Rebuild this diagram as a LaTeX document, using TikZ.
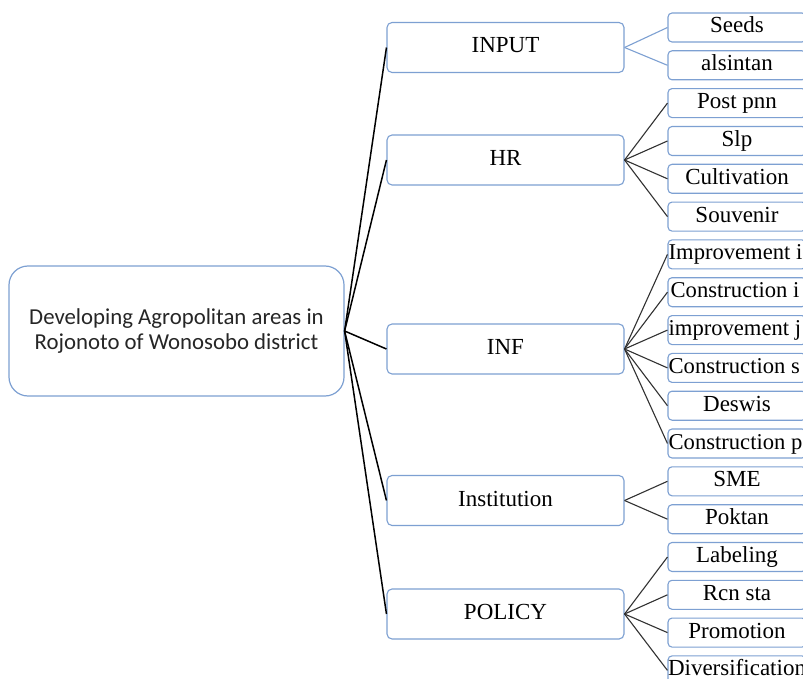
\documentclass[tikz,border=0pt]{standalone}
\usepackage{fontspec}
\setmainfont{Liberation Serif}
\newfontfamily\rootfont{Carlito}
\definecolor{boxblue}{RGB}{125,160,210}
\definecolor{linegray}{RGB}{50,50,50}
\begin{document}
\begin{tikzpicture}[x=1pt,y=-1pt,
  rootbox/.style={draw=boxblue,line width=1.2pt,rounded corners=19pt,minimum width=335pt,minimum height=130pt,align=center,text=black!85,font=\rootfont\fontsize{22.8}{25}\selectfont,inner sep=0pt},
  catbox/.style={draw=boxblue,line width=1.1pt,rounded corners=5pt,minimum width=237pt,minimum height=50pt,font=\fontsize{23}{27}\selectfont,text height=15.6pt,text depth=4.6pt,inner sep=0pt},
  itembox/.style={draw=boxblue,line width=1.1pt,rounded corners=4pt,minimum width=138pt,minimum height=29pt,font=\fontsize{23}{27}\selectfont,text height=15.6pt,text depth=4.6pt,inner sep=0pt},
  itemtext/.style={anchor=west,font=\fontsize{22.6}{27}\selectfont,text height=15.6pt,text depth=4.6pt,inner sep=0pt},
  rootlink/.style={draw=black,line width=1.5pt},
  catlink/.style={draw=linegray,line width=1.1pt},
  inputlink/.style={draw=boxblue,line width=1.1pt}]
\useasboundingbox (0,0) rectangle (803,679);
\fill[white] (0,0) rectangle (803,679);

% root
\node[rootbox] (root) at (176.5,331) {Developing Agropolitan areas in\\Rojonoto of Wonosobo district};

% categories
\node[catbox] (input) at (505.5,47.5) {INPUT};
\node[catbox] (hr) at (505.5,160) {HR};
\node[catbox] (inf) at (505.5,349) {INF};
\node[catbox] (inst) at (505.5,500.5) {Institution};
\node[catbox] (policy) at (505.5,614) {POLICY};

% items
\node[itembox] (seeds) at (737,27.5) {Seeds};
\node[itembox] (alsintan) at (737,65.3) {alsintan};
\node[itembox] (postpnn) at (737,103.1) {Post pnn};
\node[itembox] (slp) at (737,141.0) {Slp};
\node[itembox] (cult) at (737,178.8) {Cultivation};
\node[itembox] (souv) at (737,216.6) {Souvenir};
\node[itembox] (imp1) at (737,254.4) {};
\node[itemtext] (imp1t) at ([xshift=1pt]imp1.west) {Improvement i};
\node[itembox] (con1) at (737,292.2) {};
\node[itemtext] (con1t) at ([xshift=3pt]con1.west) {Construction i};
\node[itembox] (imp2) at (737,330.1) {};
\node[itemtext] (imp2t) at ([xshift=1pt]imp2.west) {improvement j};
\node[itembox] (con2) at (737,367.9) {};
\node[itemtext] (con2t) at ([xshift=1pt]con2.west) {Construction s};
\node[itembox] (deswis) at (737,405.7) {Deswis};
\node[itembox] (con3) at (737,443.5) {};
\node[itemtext] (con3t) at ([xshift=1pt]con3.west) {Construction p};
\node[itembox] (sme) at (737,481.3) {SME};
\node[itembox] (poktan) at (737,519.2) {Poktan};
\node[itembox] (label) at (737,557.0) {Labeling};
\node[itembox] (rcn) at (737,594.8) {Rcn sta};
\node[itembox] (promo) at (737,632.6) {Promotion};
\node[itembox] (divers) at (737,670.4) {Diversification};

% root links
\foreach \c in {input,hr,inf,inst,policy}
  \draw[rootlink] (root.east) -- (\c.west);

% category links
\foreach \i in {seeds,alsintan}
  \draw[inputlink] (input.east) -- (\i.west);
\foreach \i in {postpnn,slp,cult,souv}
  \draw[catlink] (hr.east) -- (\i.west);
\foreach \i in {imp1,con1,imp2,con2,deswis,con3}
  \draw[catlink] (inf.east) -- (\i.west);
\foreach \i in {sme,poktan}
  \draw[catlink] (inst.east) -- (\i.west);
\foreach \i in {label,rcn,promo,divers}
  \draw[catlink] (policy.east) -- (\i.west);
\end{tikzpicture}
\end{document}
